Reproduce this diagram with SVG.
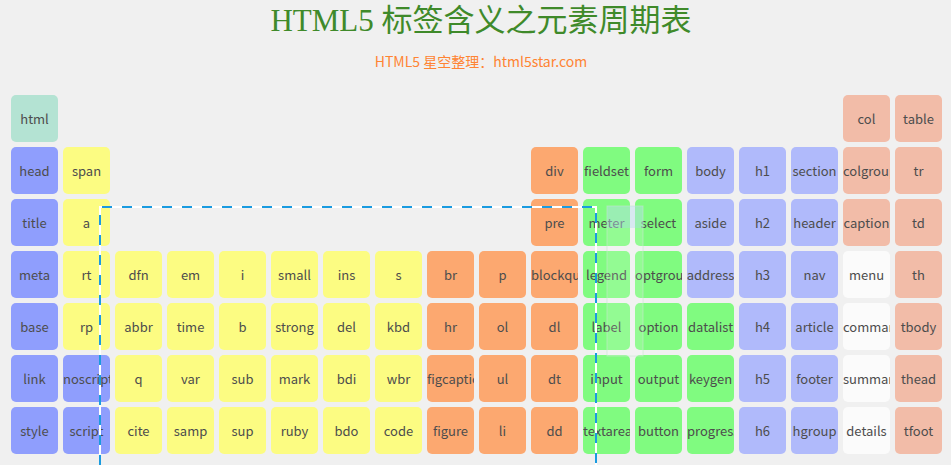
<svg xmlns="http://www.w3.org/2000/svg" width="951" height="465" viewBox="0 0 951 465">
<style>
.bg{fill:#f0f0f0}
.title{font-family:"Liberation Serif","Noto Sans CJK SC",serif;font-size:31px;fill:#3f8a2a;text-anchor:middle}
.sub{font-family:"Noto Sans CJK SC","Noto Sans",sans-serif;font-size:14px;fill:#ff8433;text-anchor:middle}
.cell text{font-family:"Noto Sans CJK SC","Noto Sans",sans-serif;font-size:13px;fill:#4d4d4d;text-anchor:middle}
.cell text.l{text-anchor:start}
.m{fill:#b4e3d3}.b{fill:#8f9efd}.y{fill:#fcfc82}.o{fill:#fca870}.g{fill:#80fb80}.lb{fill:#b0bafb}.s{fill:#f2bca8}.w{fill:#fbfbfb}
.dashw{fill:none;stroke:#ffffff;stroke-width:2}
.dashb{fill:none;stroke:#1a9be0;stroke-width:2;stroke-dasharray:10 10}
</style>
<rect class="bg" width="951" height="465"/>
<text class="title" x="481" y="31">HTML5 标签含义之元素周期表</text>
<text class="sub" x="481" y="67">HTML5 星空整理：html5star.com</text>

<!-- row 0 -->
<g id="n-html" class="cell" transform="translate(11,95)"><svg width="47" height="47"><rect class="m" width="47" height="47" rx="5"/><text x="23.5" y="29">html</text></svg></g>
<g id="n-col" class="cell" transform="translate(843,95)"><svg width="47" height="47"><rect class="s" width="47" height="47" rx="5"/><text x="23.5" y="29">col</text></svg></g>
<g id="n-table" class="cell" transform="translate(895,95)"><svg width="47" height="47"><rect class="s" width="47" height="47" rx="5"/><text x="23.5" y="29">table</text></svg></g>

<!-- row 1 -->
<g id="n-head" class="cell" transform="translate(11,147)"><svg width="47" height="47"><rect class="b" width="47" height="47" rx="5"/><text x="23.5" y="29">head</text></svg></g>
<g id="n-span" class="cell" transform="translate(63,147)"><svg width="47" height="47"><rect class="y" width="47" height="47" rx="5"/><text x="23.5" y="29">span</text></svg></g>
<g id="n-div" class="cell" transform="translate(531,147)"><svg width="47" height="47"><rect class="o" width="47" height="47" rx="5"/><text x="23.5" y="29">div</text></svg></g>
<g id="n-fieldset" class="cell" transform="translate(583,147)"><svg width="47" height="47"><rect class="g" width="47" height="47" rx="5"/><text x="23.5" y="29">fieldset</text></svg></g>
<g id="n-form" class="cell" transform="translate(635,147)"><svg width="47" height="47"><rect class="g" width="47" height="47" rx="5"/><text x="23.5" y="29">form</text></svg></g>
<g id="n-body" class="cell" transform="translate(687,147)"><svg width="47" height="47"><rect class="lb" width="47" height="47" rx="5"/><text x="23.5" y="29">body</text></svg></g>
<g id="n-h1" class="cell" transform="translate(739,147)"><svg width="47" height="47"><rect class="lb" width="47" height="47" rx="5"/><text x="23.5" y="29">h1</text></svg></g>
<g id="n-section" class="cell" transform="translate(791,147)"><svg width="47" height="47"><rect class="lb" width="47" height="47" rx="5"/><text x="23.5" y="29">section</text></svg></g>
<g id="n-colgroup" class="cell" transform="translate(843,147)"><svg width="47" height="47"><rect class="s" width="47" height="47" rx="5"/><text class="l" x="0" y="29">colgroup</text></svg></g>
<g id="n-tr" class="cell" transform="translate(895,147)"><svg width="47" height="47"><rect class="s" width="47" height="47" rx="5"/><text x="23.5" y="29">tr</text></svg></g>

<!-- row 2 -->
<g id="n-title" class="cell" transform="translate(11,199)"><svg width="47" height="47"><rect class="b" width="47" height="47" rx="5"/><text x="23.5" y="29">title</text></svg></g>
<g id="n-a" class="cell" transform="translate(63,199)"><svg width="47" height="47"><rect class="y" width="47" height="47" rx="5"/><text x="23.5" y="29">a</text></svg></g>
<g id="n-pre" class="cell" transform="translate(531,199)"><svg width="47" height="47"><rect class="o" width="47" height="47" rx="5"/><text x="23.5" y="29">pre</text></svg></g>
<g id="n-meter" class="cell" transform="translate(583,199)"><svg width="47" height="47"><rect class="g" width="47" height="47" rx="5"/><text x="23.5" y="29">meter</text></svg></g>
<g id="n-select" class="cell" transform="translate(635,199)"><svg width="47" height="47"><rect class="g" width="47" height="47" rx="5"/><text x="23.5" y="29">select</text></svg></g>
<g id="n-aside" class="cell" transform="translate(687,199)"><svg width="47" height="47"><rect class="lb" width="47" height="47" rx="5"/><text x="23.5" y="29">aside</text></svg></g>
<g id="n-h2" class="cell" transform="translate(739,199)"><svg width="47" height="47"><rect class="lb" width="47" height="47" rx="5"/><text x="23.5" y="29">h2</text></svg></g>
<g id="n-header" class="cell" transform="translate(791,199)"><svg width="47" height="47"><rect class="lb" width="47" height="47" rx="5"/><text x="23.5" y="29">header</text></svg></g>
<g id="n-caption" class="cell" transform="translate(843,199)"><svg width="47" height="47"><rect class="s" width="47" height="47" rx="5"/><text x="23.5" y="29">caption</text></svg></g>
<g id="n-td" class="cell" transform="translate(895,199)"><svg width="47" height="47"><rect class="s" width="47" height="47" rx="5"/><text x="23.5" y="29">td</text></svg></g>

<!-- row 3 -->
<g id="n-meta" class="cell" transform="translate(11,251)"><svg width="47" height="47"><rect class="b" width="47" height="47" rx="5"/><text x="23.5" y="29">meta</text></svg></g>
<g id="n-rt" class="cell" transform="translate(63,251)"><svg width="47" height="47"><rect class="y" width="47" height="47" rx="5"/><text x="23.5" y="29">rt</text></svg></g>
<g id="n-dfn" class="cell" transform="translate(115,251)"><svg width="47" height="47"><rect class="y" width="47" height="47" rx="5"/><text x="23.5" y="29">dfn</text></svg></g>
<g id="n-em" class="cell" transform="translate(167,251)"><svg width="47" height="47"><rect class="y" width="47" height="47" rx="5"/><text x="23.5" y="29">em</text></svg></g>
<g id="n-i" class="cell" transform="translate(219,251)"><svg width="47" height="47"><rect class="y" width="47" height="47" rx="5"/><text x="23.5" y="29">i</text></svg></g>
<g id="n-small" class="cell" transform="translate(271,251)"><svg width="47" height="47"><rect class="y" width="47" height="47" rx="5"/><text x="23.5" y="29">small</text></svg></g>
<g id="n-ins" class="cell" transform="translate(323,251)"><svg width="47" height="47"><rect class="y" width="47" height="47" rx="5"/><text x="23.5" y="29">ins</text></svg></g>
<g id="n-s" class="cell" transform="translate(375,251)"><svg width="47" height="47"><rect class="y" width="47" height="47" rx="5"/><text x="23.5" y="29">s</text></svg></g>
<g id="n-br" class="cell" transform="translate(427,251)"><svg width="47" height="47"><rect class="o" width="47" height="47" rx="5"/><text x="23.5" y="29">br</text></svg></g>
<g id="n-p" class="cell" transform="translate(479,251)"><svg width="47" height="47"><rect class="o" width="47" height="47" rx="5"/><text x="23.5" y="29">p</text></svg></g>
<g id="n-blockquote" class="cell" transform="translate(531,251)"><svg width="47" height="47"><rect class="o" width="47" height="47" rx="5"/><text class="l" x="0" y="29">blockquote</text></svg></g>
<g id="n-legend" class="cell" transform="translate(583,251)"><svg width="47" height="47"><rect class="g" width="47" height="47" rx="5"/><text x="23.5" y="29">legend</text></svg></g>
<g id="n-optgroup" class="cell" transform="translate(635,251)"><svg width="47" height="47"><rect class="g" width="47" height="47" rx="5"/><text class="l" x="0" y="29">optgroup</text></svg></g>
<g id="n-address" class="cell" transform="translate(687,251)"><svg width="47" height="47"><rect class="lb" width="47" height="47" rx="5"/><text x="23.5" y="29">address</text></svg></g>
<g id="n-h3" class="cell" transform="translate(739,251)"><svg width="47" height="47"><rect class="lb" width="47" height="47" rx="5"/><text x="23.5" y="29">h3</text></svg></g>
<g id="n-nav" class="cell" transform="translate(791,251)"><svg width="47" height="47"><rect class="lb" width="47" height="47" rx="5"/><text x="23.5" y="29">nav</text></svg></g>
<g id="n-menu" class="cell" transform="translate(843,251)"><svg width="47" height="47"><rect class="w" width="47" height="47" rx="5"/><text x="23.5" y="29">menu</text></svg></g>
<g id="n-th" class="cell" transform="translate(895,251)"><svg width="47" height="47"><rect class="s" width="47" height="47" rx="5"/><text x="23.5" y="29">th</text></svg></g>

<!-- row 4 -->
<g id="n-base" class="cell" transform="translate(11,303)"><svg width="47" height="47"><rect class="b" width="47" height="47" rx="5"/><text x="23.5" y="29">base</text></svg></g>
<g id="n-rp" class="cell" transform="translate(63,303)"><svg width="47" height="47"><rect class="y" width="47" height="47" rx="5"/><text x="23.5" y="29">rp</text></svg></g>
<g id="n-abbr" class="cell" transform="translate(115,303)"><svg width="47" height="47"><rect class="y" width="47" height="47" rx="5"/><text x="23.5" y="29">abbr</text></svg></g>
<g id="n-time" class="cell" transform="translate(167,303)"><svg width="47" height="47"><rect class="y" width="47" height="47" rx="5"/><text x="23.5" y="29">time</text></svg></g>
<g id="n-b" class="cell" transform="translate(219,303)"><svg width="47" height="47"><rect class="y" width="47" height="47" rx="5"/><text x="23.5" y="29">b</text></svg></g>
<g id="n-strong" class="cell" transform="translate(271,303)"><svg width="47" height="47"><rect class="y" width="47" height="47" rx="5"/><text x="23.5" y="29">strong</text></svg></g>
<g id="n-del" class="cell" transform="translate(323,303)"><svg width="47" height="47"><rect class="y" width="47" height="47" rx="5"/><text x="23.5" y="29">del</text></svg></g>
<g id="n-kbd" class="cell" transform="translate(375,303)"><svg width="47" height="47"><rect class="y" width="47" height="47" rx="5"/><text x="23.5" y="29">kbd</text></svg></g>
<g id="n-hr" class="cell" transform="translate(427,303)"><svg width="47" height="47"><rect class="o" width="47" height="47" rx="5"/><text x="23.5" y="29">hr</text></svg></g>
<g id="n-ol" class="cell" transform="translate(479,303)"><svg width="47" height="47"><rect class="o" width="47" height="47" rx="5"/><text x="23.5" y="29">ol</text></svg></g>
<g id="n-dl" class="cell" transform="translate(531,303)"><svg width="47" height="47"><rect class="o" width="47" height="47" rx="5"/><text x="23.5" y="29">dl</text></svg></g>
<g id="n-label" class="cell" transform="translate(583,303)"><svg width="47" height="47"><rect class="g" width="47" height="47" rx="5"/><text x="23.5" y="29">label</text></svg></g>
<g id="n-option" class="cell" transform="translate(635,303)"><svg width="47" height="47"><rect class="g" width="47" height="47" rx="5"/><text x="23.5" y="29">option</text></svg></g>
<g id="n-datalist" class="cell" transform="translate(687,303)"><svg width="47" height="47"><rect class="g" width="47" height="47" rx="5"/><text x="23.5" y="29">datalist</text></svg></g>
<g id="n-h4" class="cell" transform="translate(739,303)"><svg width="47" height="47"><rect class="lb" width="47" height="47" rx="5"/><text x="23.5" y="29">h4</text></svg></g>
<g id="n-article" class="cell" transform="translate(791,303)"><svg width="47" height="47"><rect class="lb" width="47" height="47" rx="5"/><text x="23.5" y="29">article</text></svg></g>
<g id="n-command" class="cell" transform="translate(843,303)"><svg width="47" height="47"><rect class="w" width="47" height="47" rx="5"/><text class="l" x="0" y="29">command</text></svg></g>
<g id="n-tbody" class="cell" transform="translate(895,303)"><svg width="47" height="47"><rect class="s" width="47" height="47" rx="5"/><text x="23.5" y="29">tbody</text></svg></g>

<!-- row 5 -->
<g id="n-link" class="cell" transform="translate(11,355)"><svg width="47" height="47"><rect class="b" width="47" height="47" rx="5"/><text x="23.5" y="29">link</text></svg></g>
<g id="n-noscript" class="cell" transform="translate(63,355)"><svg width="47" height="47"><rect class="b" width="47" height="47" rx="5"/><text class="l" x="0" y="29">noscript</text></svg></g>
<g id="n-q" class="cell" transform="translate(115,355)"><svg width="47" height="47"><rect class="y" width="47" height="47" rx="5"/><text x="23.5" y="29">q</text></svg></g>
<g id="n-var" class="cell" transform="translate(167,355)"><svg width="47" height="47"><rect class="y" width="47" height="47" rx="5"/><text x="23.5" y="29">var</text></svg></g>
<g id="n-sub" class="cell" transform="translate(219,355)"><svg width="47" height="47"><rect class="y" width="47" height="47" rx="5"/><text x="23.5" y="29">sub</text></svg></g>
<g id="n-mark" class="cell" transform="translate(271,355)"><svg width="47" height="47"><rect class="y" width="47" height="47" rx="5"/><text x="23.5" y="29">mark</text></svg></g>
<g id="n-bdi" class="cell" transform="translate(323,355)"><svg width="47" height="47"><rect class="y" width="47" height="47" rx="5"/><text x="23.5" y="29">bdi</text></svg></g>
<g id="n-wbr" class="cell" transform="translate(375,355)"><svg width="47" height="47"><rect class="y" width="47" height="47" rx="5"/><text x="23.5" y="29">wbr</text></svg></g>
<g id="n-figcaption" class="cell" transform="translate(427,355)"><svg width="47" height="47"><rect class="o" width="47" height="47" rx="5"/><text class="l" x="0" y="29">figcaption</text></svg></g>
<g id="n-ul" class="cell" transform="translate(479,355)"><svg width="47" height="47"><rect class="o" width="47" height="47" rx="5"/><text x="23.5" y="29">ul</text></svg></g>
<g id="n-dt" class="cell" transform="translate(531,355)"><svg width="47" height="47"><rect class="o" width="47" height="47" rx="5"/><text x="23.5" y="29">dt</text></svg></g>
<g id="n-input" class="cell" transform="translate(583,355)"><svg width="47" height="47"><rect class="g" width="47" height="47" rx="5"/><text x="23.5" y="29">input</text></svg></g>
<g id="n-output" class="cell" transform="translate(635,355)"><svg width="47" height="47"><rect class="g" width="47" height="47" rx="5"/><text x="23.5" y="29">output</text></svg></g>
<g id="n-keygen" class="cell" transform="translate(687,355)"><svg width="47" height="47"><rect class="g" width="47" height="47" rx="5"/><text x="23.5" y="29">keygen</text></svg></g>
<g id="n-h5" class="cell" transform="translate(739,355)"><svg width="47" height="47"><rect class="lb" width="47" height="47" rx="5"/><text x="23.5" y="29">h5</text></svg></g>
<g id="n-footer" class="cell" transform="translate(791,355)"><svg width="47" height="47"><rect class="lb" width="47" height="47" rx="5"/><text x="23.5" y="29">footer</text></svg></g>
<g id="n-summary" class="cell" transform="translate(843,355)"><svg width="47" height="47"><rect class="w" width="47" height="47" rx="5"/><text class="l" x="0" y="29">summary</text></svg></g>
<g id="n-thead" class="cell" transform="translate(895,355)"><svg width="47" height="47"><rect class="s" width="47" height="47" rx="5"/><text x="23.5" y="29">thead</text></svg></g>

<!-- row 6 -->
<g id="n-style" class="cell" transform="translate(11,407)"><svg width="47" height="47"><rect class="b" width="47" height="47" rx="5"/><text x="23.5" y="29">style</text></svg></g>
<g id="n-script" class="cell" transform="translate(63,407)"><svg width="47" height="47"><rect class="b" width="47" height="47" rx="5"/><text x="23.5" y="29">script</text></svg></g>
<g id="n-cite" class="cell" transform="translate(115,407)"><svg width="47" height="47"><rect class="y" width="47" height="47" rx="5"/><text x="23.5" y="29">cite</text></svg></g>
<g id="n-samp" class="cell" transform="translate(167,407)"><svg width="47" height="47"><rect class="y" width="47" height="47" rx="5"/><text x="23.5" y="29">samp</text></svg></g>
<g id="n-sup" class="cell" transform="translate(219,407)"><svg width="47" height="47"><rect class="y" width="47" height="47" rx="5"/><text x="23.5" y="29">sup</text></svg></g>
<g id="n-ruby" class="cell" transform="translate(271,407)"><svg width="47" height="47"><rect class="y" width="47" height="47" rx="5"/><text x="23.5" y="29">ruby</text></svg></g>
<g id="n-bdo" class="cell" transform="translate(323,407)"><svg width="47" height="47"><rect class="y" width="47" height="47" rx="5"/><text x="23.5" y="29">bdo</text></svg></g>
<g id="n-code" class="cell" transform="translate(375,407)"><svg width="47" height="47"><rect class="y" width="47" height="47" rx="5"/><text x="23.5" y="29">code</text></svg></g>
<g id="n-figure" class="cell" transform="translate(427,407)"><svg width="47" height="47"><rect class="o" width="47" height="47" rx="5"/><text x="23.5" y="29">figure</text></svg></g>
<g id="n-li" class="cell" transform="translate(479,407)"><svg width="47" height="47"><rect class="o" width="47" height="47" rx="5"/><text x="23.5" y="29">li</text></svg></g>
<g id="n-dd" class="cell" transform="translate(531,407)"><svg width="47" height="47"><rect class="o" width="47" height="47" rx="5"/><text x="23.5" y="29">dd</text></svg></g>
<g id="n-textarea" class="cell" transform="translate(583,407)"><svg width="47" height="47"><rect class="g" width="47" height="47" rx="5"/><text class="l" x="0" y="29">textarea</text></svg></g>
<g id="n-button" class="cell" transform="translate(635,407)"><svg width="47" height="47"><rect class="g" width="47" height="47" rx="5"/><text x="23.5" y="29">button</text></svg></g>
<g id="n-progress" class="cell" transform="translate(687,407)"><svg width="47" height="47"><rect class="g" width="47" height="47" rx="5"/><text class="l" x="0" y="29">progress</text></svg></g>
<g id="n-h6" class="cell" transform="translate(739,407)"><svg width="47" height="47"><rect class="lb" width="47" height="47" rx="5"/><text x="23.5" y="29">h6</text></svg></g>
<g id="n-hgroup" class="cell" transform="translate(791,407)"><svg width="47" height="47"><rect class="lb" width="47" height="47" rx="5"/><text x="23.5" y="29">hgroup</text></svg></g>
<g id="n-details" class="cell" transform="translate(843,407)"><svg width="47" height="47"><rect class="w" width="47" height="47" rx="5"/><text x="23.5" y="29">details</text></svg></g>
<g id="n-tfoot" class="cell" transform="translate(895,407)"><svg width="47" height="47"><rect class="s" width="47" height="47" rx="5"/><text x="23.5" y="29">tfoot</text></svg></g>

<g id="connectors">
<path class="dashw" d="M100 465 V207 H596 V465"/>
<path class="dashb" d="M100 465 V207 H596 V465"/>
</g>
<g id="overlay">
<rect x="607" y="206" width="36" height="150" fill="#ffffff" fill-opacity="0.15" stroke="#c8e8d0" stroke-opacity="0.6"/>
<rect x="607" y="206" width="36" height="22" fill="#a8d8f0" fill-opacity="0.35"/>
</g>
</svg>
